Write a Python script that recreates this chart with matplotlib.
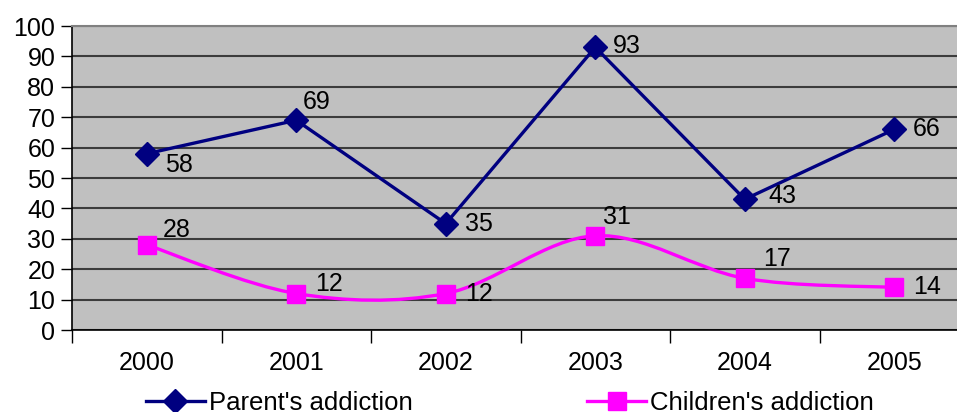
import numpy as np
import matplotlib
matplotlib.use("Agg")
import matplotlib.pyplot as plt
from matplotlib.path import Path
from matplotlib.patches import PathPatch
from matplotlib.lines import Line2D

plt.rcParams['font.family'] = ['Liberation Sans', 'DejaVu Sans']

years = ['2000', '2001', '2002', '2003', '2004', '2005']
parents = [58, 69, 35, 93, 43, 66]
children = [28, 12, 12, 31, 17, 14]

# label offsets in pixels (dx, dy)
parent_off = [(18, -11), (7, 18), (19, 0), (18, 1), (24, 3), (19, 0)]
child_off = [(16, 15), (19, 10), (19, 0), (8, 19), (18, 19), (19, 0)]

navy = '#000080'
pink = '#FF00FF'
fs = 18


def smooth_path(x, y):
    # Excel-style smoothed line: Bezier segments with Catmull-Rom control points
    pts = np.column_stack([x, y]).astype(float)
    n = len(pts)
    verts = [pts[0]]
    codes = [Path.MOVETO]
    for i in range(n - 1):
        p0 = pts[max(i - 1, 0)]
        p1 = pts[i]
        p2 = pts[i + 1]
        p3 = pts[min(i + 2, n - 1)]
        c1 = p1 + (p2 - p0) / 6.0
        c2 = p2 - (p3 - p1) / 6.0
        verts += [c1, c2, p2]
        codes += [Path.CURVE4] * 3
    return Path(verts, codes)


fig = plt.figure(figsize=(9.57, 4.12), dpi=100)
ax = fig.add_axes([72 / 957, 1 - 330 / 412, 897 / 957, 304 / 412])
ax.set_facecolor('#C0C0C0')

x = np.arange(len(years))

ax.plot(x, parents, color=navy, lw=2.4, marker='D', ms=12, zorder=3)

ax.add_patch(PathPatch(smooth_path(x, children), fill=False, edgecolor=pink,
                       lw=2.4, zorder=3))
ax.plot(x, children, ls='none', color=pink, marker='s', ms=12.5, zorder=4)

for xi, v, (dx, dy) in zip(x, parents, parent_off):
    ax.annotate(str(v), (xi, v), xytext=(dx, dy), textcoords='offset pixels',
                ha='left', va='center', fontsize=fs, zorder=5)
for xi, v, (dx, dy) in zip(x, children, child_off):
    ax.annotate(str(v), (xi, v), xytext=(dx, dy), textcoords='offset pixels',
                ha='left', va='center', fontsize=fs, zorder=5)

ax.set_xlim(-0.5, len(years) - 0.5)
ax.set_ylim(0, 100)
ax.set_yticks(range(0, 101, 10))
ax.yaxis.grid(True, color='#3c3c3c', lw=1.5)
ax.set_axisbelow(True)

ax.set_xticks(np.arange(-0.5, len(years), 1.0))
ax.set_xticklabels([])
ax.set_xticks(x, minor=True)
ax.set_xticklabels(years, minor=True, fontsize=fs)
ax.tick_params(axis='x', which='major', length=9, width=1, direction='out')
ax.tick_params(axis='x', which='minor', length=0, pad=15)
ax.tick_params(axis='y', length=8, width=1, labelsize=fs, pad=4)

ax.spines['right'].set_visible(False)
ax.spines['top'].set_color('#808080')
ax.spines['top'].set_linewidth(1.5)
ax.spines['left'].set_linewidth(1.2)
ax.spines['bottom'].set_linewidth(1.2)

handles = [
    Line2D([], [], color=navy, lw=2.4, marker='D', ms=12),
    Line2D([], [], color=pink, lw=2.4, marker='s', ms=12.5),
]
fig.legend(handles, ["Parent's addiction", "Children's addiction"],
           loc='center', bbox_to_anchor=(510 / 957, 1 - 403 / 412), ncol=2,
           frameon=False, fontsize=fs + 0.5, handlelength=2.3, handletextpad=0.15,
           columnspacing=6.8, borderpad=0)

fig.savefig('out.png', dpi=100)
